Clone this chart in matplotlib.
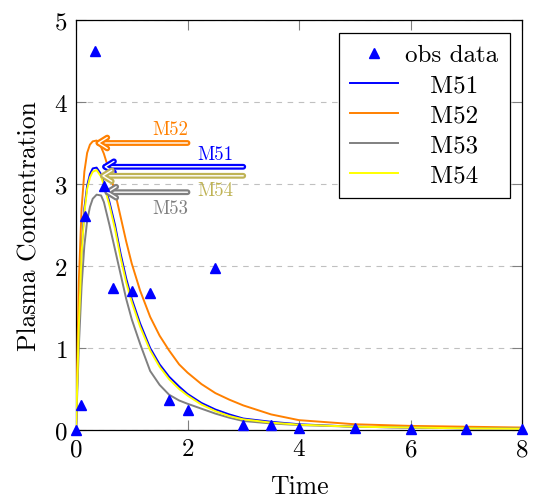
import matplotlib
matplotlib.use("Agg")
import matplotlib.pyplot as plt
import matplotlib.patheffects as pe

plt.rcParams['font.family'] = 'serif'
plt.rcParams['font.serif'] = ['cmr10']
plt.rcParams['mathtext.fontset'] = 'cm'
plt.rcParams['axes.formatter.use_mathtext'] = True

# observed data
t_obs = [0, 0.083, 0.167, 0.333, 0.5, 0.667, 1.0, 1.333, 1.667, 2.0, 2.5,
         3.0, 3.5, 4.0, 5.0, 6.0, 7.0, 8.0]
c_obs = [0, 0.30, 2.61, 4.62, 2.98, 1.73, 1.70, 1.67, 0.36, 0.25, 1.97,
         0.06, 0.06, 0.02, 0.02, 0.01, 0.01, 0.01]

# model predictions
t_mod = [0, 0.05, 0.1, 0.15, 0.2, 0.25, 0.3, 0.37, 0.45, 0.5, 0.6, 0.7, 0.8,
         0.9, 1.0, 1.15, 1.33, 1.5, 1.67, 1.85, 2.0, 2.25, 2.5, 2.75, 3.0,
         3.5, 4.0, 5.0, 6.0, 7.0, 8.0]
m51 = [0, 1.30, 2.20, 2.70, 2.98, 3.12, 3.19, 3.20, 3.12, 3.02, 2.78, 2.50, 2.15,
       1.85, 1.60, 1.30, 1.00, 0.80, 0.65, 0.53, 0.44, 0.33, 0.25, 0.19, 0.14,
       0.10, 0.07, 0.04, 0.03, 0.02, 0.02]
m52 = [0, 1.80, 2.70, 3.15, 3.38, 3.48, 3.52, 3.53, 3.45, 3.37, 3.15, 2.90, 2.60,
       2.30, 2.03, 1.70, 1.38, 1.15, 0.97, 0.80, 0.70, 0.56, 0.45, 0.37, 0.30,
       0.19, 0.12, 0.07, 0.05, 0.04, 0.03]
m53 = [0, 1.00, 1.75, 2.25, 2.55, 2.72, 2.82, 2.87, 2.86, 2.78, 2.50, 2.20, 1.90,
       1.60, 1.35, 1.05, 0.72, 0.55, 0.43, 0.36, 0.32, 0.26, 0.20, 0.15, 0.11,
       0.08, 0.06, 0.04, 0.03, 0.02, 0.02]
m54 = [0, 1.25, 2.15, 2.65, 2.94, 3.08, 3.15, 3.17, 3.09, 2.99, 2.74, 2.45, 2.10,
       1.80, 1.56, 1.26, 0.97, 0.77, 0.62, 0.50, 0.42, 0.31, 0.23, 0.17, 0.13,
       0.09, 0.065, 0.04, 0.03, 0.02, 0.015]

model_names = ['M51', 'M52', 'M53', 'M54']
model_colors = ['#0000ff', '#ff8000', '#808080', '#ffff00']

# peak annotations
ann_names = ['M52', 'M51', 'M54', 'M53']
ann_tip_t = [0.38, 0.50, 0.46, 0.54]
ann_level = [3.50, 3.21, 3.10, 2.90]
ann_tail_t = [2.0, 3.0, 3.0, 2.0]
ann_text_t = [1.69, 2.50, 2.50, 1.69]
ann_text_y = [3.67, 3.37, 2.93, 2.71]
ann_colors = ['#ff8000', '#0000ff', '#bfb355', '#808080']

fig = plt.figure(figsize=(5.37, 5.02), dpi=100)
ax = fig.add_axes([76/537, 1-431/502, 446/537, 410/502])

ax.plot(t_obs, c_obs, linestyle='none', marker='^', color='#0000ff',
        markersize=7.5, label='obs data', zorder=5, clip_on=False)
for name, vals, col in zip(model_names, [m51, m52, m53, m54], model_colors):
    ax.plot(t_mod, vals, color=col, lw=1.4, label='   ' + name, zorder=3)

for name, tt, lev, tail, tx, ty, col in zip(ann_names, ann_tip_t, ann_level,
                                            ann_tail_t, ann_text_t, ann_text_y, ann_colors):
    ax.annotate('', xy=(tt, lev), xytext=(tail, lev),
                arrowprops=dict(arrowstyle='->,head_length=0.45,head_width=0.28',
                                color='white', lw=1.0, shrinkA=0, shrinkB=0,
                                mutation_scale=14,
                                path_effects=[pe.Stroke(linewidth=4.2, foreground=col),
                                              pe.Normal()]),
                zorder=4)
    ax.text(tx, ty, name, color=col, fontsize=13.5, ha='center', va='center', zorder=4)

ax.set_xlim(0, 8)
ax.set_ylim(0, 5)
ax.set_xticks([0, 2, 4, 6, 8])
ax.set_yticks([0, 1, 2, 3, 4, 5])
ax.tick_params(direction='in', length=7, width=0.8, color='#808080',
               top=True, right=True, labelsize=18, pad=6)
ax.yaxis.grid(True, linestyle=(0, (5, 5)), color='#c0c0c0', lw=0.8)
ax.set_axisbelow(True)
for s in ax.spines.values():
    s.set_linewidth(0.9)
    s.set_color('black')

ax.set_xlabel('Time', fontsize=18.5, labelpad=10)
ax.set_ylabel('Plasma Concentration', fontsize=18.5, labelpad=9)

leg = ax.legend(loc='upper right', fontsize=18, frameon=True, fancybox=False,
                edgecolor='black', framealpha=1, borderaxespad=0.5,
                handlelength=1.9, labelspacing=0.3, borderpad=0.45,
                handletextpad=0.3)
leg.get_frame().set_linewidth(0.9)

fig.savefig('out.png', dpi=100)
